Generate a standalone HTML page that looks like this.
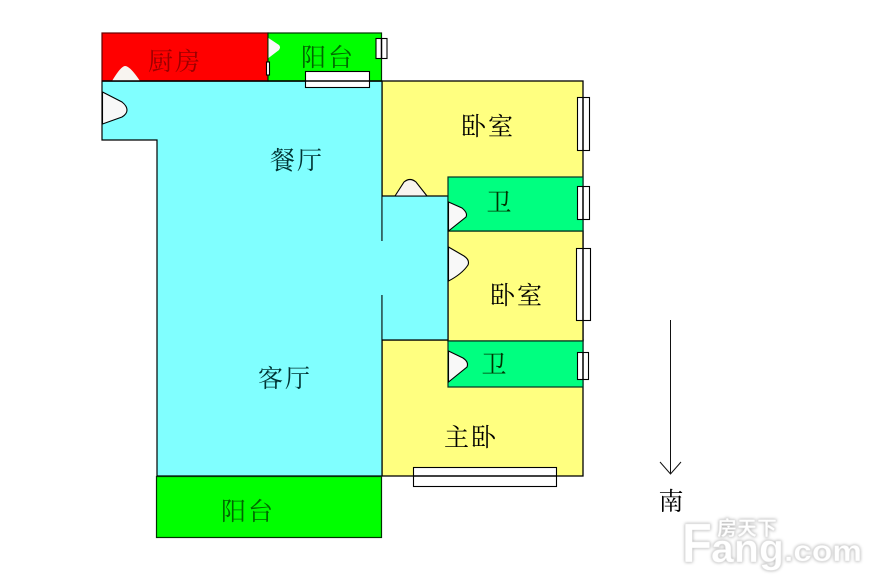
<!DOCTYPE html>
<html><head><meta charset="utf-8"><style>
html,body{margin:0;padding:0;background:#fff}
svg{display:block}
text{font-family:"Liberation Serif","Noto Serif CJK SC",serif}
.l{font-size:25px;letter-spacing:2px;text-anchor:middle}
.w{font-family:"Liberation Sans",sans-serif;font-weight:bold;fill:#fff;stroke:#e4e4e4;stroke-width:.6}
</style></head><body>
<svg width="880" height="587" viewBox="0 0 880 587" xmlns="http://www.w3.org/2000/svg">
<rect width="880" height="587" fill="#fff"/>
<g style="filter:blur(.35px)">
<g stroke="#000" stroke-width="1.3">
<rect x="382" y="81" width="201" height="259" fill="#ffff80"/>
<rect x="382" y="340" width="201" height="136" fill="#ffff80"/>
<rect x="448" y="231" width="135" height="110" fill="#ffff80"/>
</g>
<path d="M102 81H382V476H157V140H102Z" fill="#80ffff" stroke="#000" stroke-width="1.2"/>
<path d="M382.500 196H448V340H382.500Z" fill="#80ffff"/>
<path d="M382 196H448V340H382" fill="none" stroke="#000" stroke-width="1.200"/>
<rect x="381" y="241" width="3" height="54" fill="#80ffff"/>
<rect x="102" y="33" width="166" height="48" fill="#ff0000" stroke="#600" stroke-width="1.200"/>
<rect x="268" y="33" width="113.500" height="48" fill="#00ff00" stroke="#030" stroke-width="1.200"/>
<rect x="448" y="177" width="135" height="54" fill="#00ff80" stroke="#032" stroke-width="1.200"/>
<rect x="448" y="341" width="135" height="46" fill="#00ff80" stroke="#032" stroke-width="1.200"/>
<rect x="156.500" y="476.500" width="225" height="61" fill="#00ff00" stroke="#030" stroke-width="1.200"/>

<g fill="#fff" stroke="#000" stroke-width="1.100">
<path d="M112 81Q121 66 125 66Q130 66 140 81Z" fill="#f8f4f0" stroke="none"/>
<path d="M102.500 92L122 102Q127 106 127 110Q127 114 122 117L102.500 124Z" fill="#f8f8f8"/>
<path d="M268.500 38L279 45Q281 47 279 50L268.500 58Z" fill="#f8f8f8" stroke="none"/>
<path d="M395 196L404 182Q410 177 416 182L427 196Z" fill="#f8f4f0"/>
<path d="M448.500 202L462 208Q468 213 466 217L448.500 231Z" fill="#f8f8f8"/>
<path d="M448.500 247L464 256Q470 260 468 265Q462 274 448.500 281Z" fill="#f8f8f8"/>
<path d="M448.500 351L463 358Q469 362 467 367L448.500 382Z" fill="#f8f8f8"/>
<rect x="266.500" y="62" width="3" height="13"/>
<rect x="376" y="38.500" width="11" height="20"/>
<rect x="305.500" y="71.500" width="64" height="16"/>
<rect x="577.500" y="97.500" width="12" height="53"/>
<rect x="577.500" y="186.500" width="12" height="33"/>
<rect x="576.500" y="248.500" width="14" height="72"/>
<rect x="577.500" y="352.500" width="11" height="27"/>
<rect x="413.500" y="467.500" width="143" height="19"/>
</g>
<path d="M102 81H382M305 81H370M381.500 38V58M583 97V150M583 186V219M583 248V320M583 352V380M413 476H556" fill="none" stroke="#000" stroke-width="1.500"/>

<text class="l" x="175" y="70" fill="#900">厨房</text>
<text class="l" x="328" y="66" fill="#060">阳台</text>
<text class="l" x="488" y="135" fill="#000">卧室</text>
<text class="l" x="297" y="169" fill="#033">餐厅</text>
<text class="l" x="500" y="211" fill="#030">卫</text>
<text class="l" x="517" y="304" fill="#000">卧室</text>
<text class="l" x="495" y="373" fill="#030">卫</text>
<text class="l" x="285" y="387" fill="#033">客厅</text>
<text class="l" x="471" y="446" fill="#000">主卧</text>
<text class="l" x="248" y="520" fill="#060">阳台</text>
<text class="l" x="672" y="510" fill="#000">南</text>

<path d="M670.500 320V474M660 462L670.500 474L681 462" fill="none" stroke="#111" stroke-width="1"/>
</g>

<g style="filter:drop-shadow(0 0 1.500px #aaa)">
<text class="w" x="682" y="562" font-size="56" textLength="30" lengthAdjust="spacingAndGlyphs">F</text>
<text class="w" x="711" y="562" font-size="40" textLength="73" lengthAdjust="spacingAndGlyphs">ang</text>
<text class="w" x="784" y="561" font-size="30" textLength="78" lengthAdjust="spacingAndGlyphs">.com</text>
<text class="w" x="717" y="535" font-size="20" textLength="60" lengthAdjust="spacingAndGlyphs" style="font-family:'Liberation Sans','Noto Sans CJK SC',sans-serif">房天下</text>
</g>
</svg>
</body></html>
